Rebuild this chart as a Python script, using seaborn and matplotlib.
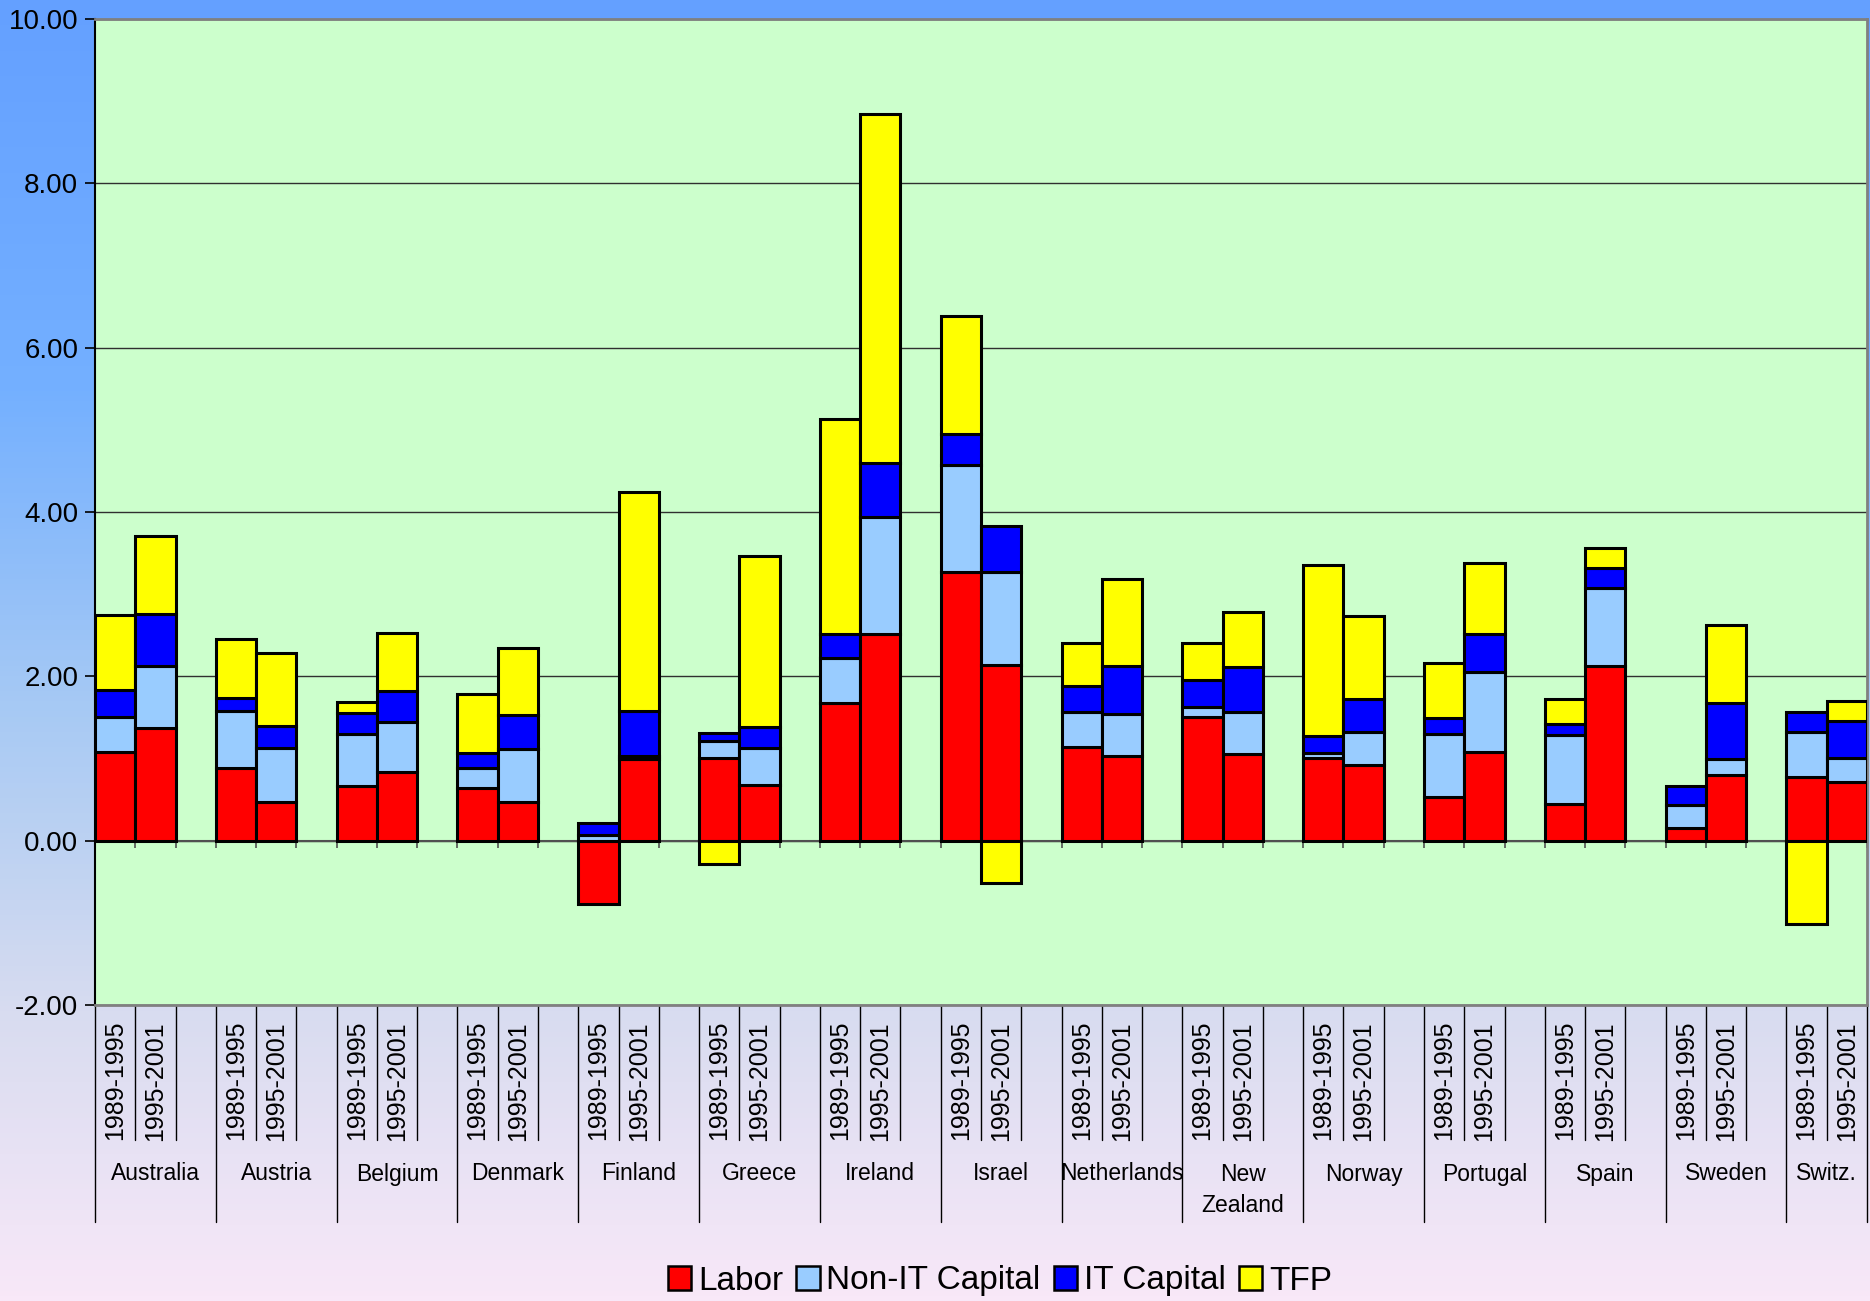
import numpy as np
import pandas as pd
import matplotlib
matplotlib.use("Agg")
import matplotlib.pyplot as plt
from matplotlib.patches import Patch
from matplotlib.colors import LinearSegmentedColormap
import seaborn as sns

sns.set_theme(style="white")
plt.rcParams["font.family"] = ["Liberation Sans", "DejaVu Sans"]
plt.rcParams["text.color"] = "black"
plt.rcParams["ytick.color"] = "black"
plt.rcParams["xtick.color"] = "black"

# data
countries = ["Australia", "Austria", "Belgium", "Denmark", "Finland", "Greece",
             "Ireland", "Israel", "Netherlands", "New\nZealand", "Norway",
             "Portugal", "Spain", "Sweden", "Switz."]
periods = ["1989-1995", "1995-2001"]

labor_8995 = [1.08, 0.88, 0.67, 0.64, -0.77, 1.01, 1.67, 3.27, 1.14, 1.51, 1.01, 0.53, 0.45, 0.15, 0.77]
labor_9501 = [1.37, 0.47, 0.83, 0.47, 1.00, 0.68, 2.52, 2.14, 1.03, 1.06, 0.92, 1.08, 2.12, 0.80, 0.71]
nonit_8995 = [0.42, 0.70, 0.63, 0.24, 0.07, 0.20, 0.55, 1.30, 0.43, 0.12, 0.06, 0.77, 0.83, 0.28, 0.55]
nonit_9501 = [0.76, 0.66, 0.62, 0.64, 0.03, 0.45, 1.42, 1.13, 0.51, 0.51, 0.40, 0.97, 0.95, 0.19, 0.30]
it_8995 = [0.33, 0.16, 0.25, 0.19, 0.15, 0.10, 0.29, 0.38, 0.31, 0.32, 0.20, 0.19, 0.14, 0.24, 0.24]
it_9501 = [0.63, 0.26, 0.37, 0.42, 0.55, 0.25, 0.66, 0.56, 0.59, 0.54, 0.40, 0.47, 0.25, 0.69, 0.45]
tfp_8995 = [0.92, 0.72, 0.14, 0.72, 0.00, -0.29, 2.62, 1.44, 0.52, 0.45, 2.08, 0.67, 0.30, 0.00, -1.01]
tfp_9501 = [0.95, 0.90, 0.71, 0.82, 2.66, 2.08, 4.24, -0.51, 1.06, 0.67, 1.02, 0.86, 0.24, 0.95, 0.24]

components = ["Labor", "Non-IT Capital", "IT Capital", "TFP"]
colors = ["#ff0000", "#99ccff", "#0000ff", "#ffff00"]

series = {
    ("Labor", 0): labor_8995, ("Labor", 1): labor_9501,
    ("Non-IT Capital", 0): nonit_8995, ("Non-IT Capital", 1): nonit_9501,
    ("IT Capital", 0): it_8995, ("IT Capital", 1): it_9501,
    ("TFP", 0): tfp_8995, ("TFP", 1): tfp_9501,
}

rows = []
for g, c in enumerate(countries):
    for p, per in enumerate(periods):
        for comp in components:
            rows.append({"country": c, "period": per, "slot": 3 * g + p,
                         "component": comp, "value": series[(comp, p)][g]})
df = pd.DataFrame(rows)

fig = plt.figure(figsize=(18.7, 13.01), dpi=100)

# gradient background
bg = fig.add_axes([0, 0, 1, 1], zorder=-10)
cmap = LinearSegmentedColormap.from_list(
    "bg", [(0.0, "#64a0ff"), (0.3, "#74b0ff"), (0.55, "#a8caf4"),
           (0.78, "#d8dcf0"), (1.0, "#f8e8f8")])
bg.imshow(np.linspace(0, 1, 256).reshape(-1, 1), aspect="auto", cmap=cmap,
          extent=[0, 1, 0, 1])
bg.axis("off")

ax = fig.add_axes([95 / 1870, 1 - 1005 / 1301, (1867 - 95) / 1870, (1005 - 19) / 1301])
ax.set_facecolor("#ccffcc")

# stacked bars, positives and negatives stacked separately
for (slot, per), grp in df.groupby(["slot", "period"], sort=False):
    pos, neg = 0.0, 0.0
    for comp, col in zip(components, colors):
        v = grp.loc[grp["component"] == comp, "value"].iloc[0]
        if v == 0:
            continue
        if v > 0:
            ax.bar(slot, v, bottom=pos, width=1.0, color=col, edgecolor="black",
                   linewidth=2.2, zorder=3)
            pos += v
        else:
            ax.bar(slot, v, bottom=neg, width=1.0, color=col, edgecolor="black",
                   linewidth=2.2, zorder=3)
            neg += v

nslots = 3 * len(countries) - 1
ax.set_xlim(-0.5, nslots - 0.5)
ax.set_ylim(-2, 10)
ax.set_yticks(np.arange(-2, 10.1, 2))
ax.set_yticklabels([f"{t:.2f}" for t in np.arange(-2, 10.1, 2)], fontsize=20)
ax.set_xticks([])
ax.yaxis.grid(True, color="#303030", linewidth=1.0, zorder=1)
ax.tick_params(axis="y", left=True, length=7, width=1.2, color="black", pad=5)
for s in ["top", "right", "bottom"]:
    ax.spines[s].set_color("#808080")
    ax.spines[s].set_linewidth(2)
ax.spines["left"].set_color("black")
ax.spines["left"].set_linewidth(1.5)
ax.axhline(0, color="#505050", linewidth=1.5, zorder=2)

# category ticks at the zero line
bounds = np.arange(-0.5, nslots, 1.0)
ax.vlines(bounds, -0.085, 0, color="#505050", linewidth=1.2, zorder=2)

# multi-level category labels below the plot
trans = ax.get_xaxis_transform()
h = 986.0
for b in bounds:
    deep = (round(b + 0.5) % 3 == 0) or b == nslots - 0.5
    y_end = -217 / h if deep else -135 / h
    ax.plot([b, b], [0, y_end], transform=trans, color="black", linewidth=1.0,
            clip_on=False)
for g, c in enumerate(countries):
    for p, per in enumerate(periods):
        ax.text(3 * g + p, -16 / h, per, transform=trans, rotation=90,
                ha="center", va="top", fontsize=18)
    xc = 3 * g + 0.5 if g == len(countries) - 1 else 3 * g + 1
    yc = -185 / h if "\n" in c else -169 / h
    ax.text(xc, yc, c, transform=trans, ha="center", va="center", fontsize=16.5,
            linespacing=1.4)

handles = [Patch(facecolor=col, edgecolor="black", linewidth=1.8) for col in colors]
fig.legend(handles, components, loc="center", ncol=4,
           bbox_to_anchor=(1000 / 1870, 1 - 1281 / 1301), frameon=False,
           fontsize=24, handlelength=0.7, handleheight=0.75,
           handletextpad=0.2, columnspacing=0.4)

fig.savefig("out.png", dpi=100)
